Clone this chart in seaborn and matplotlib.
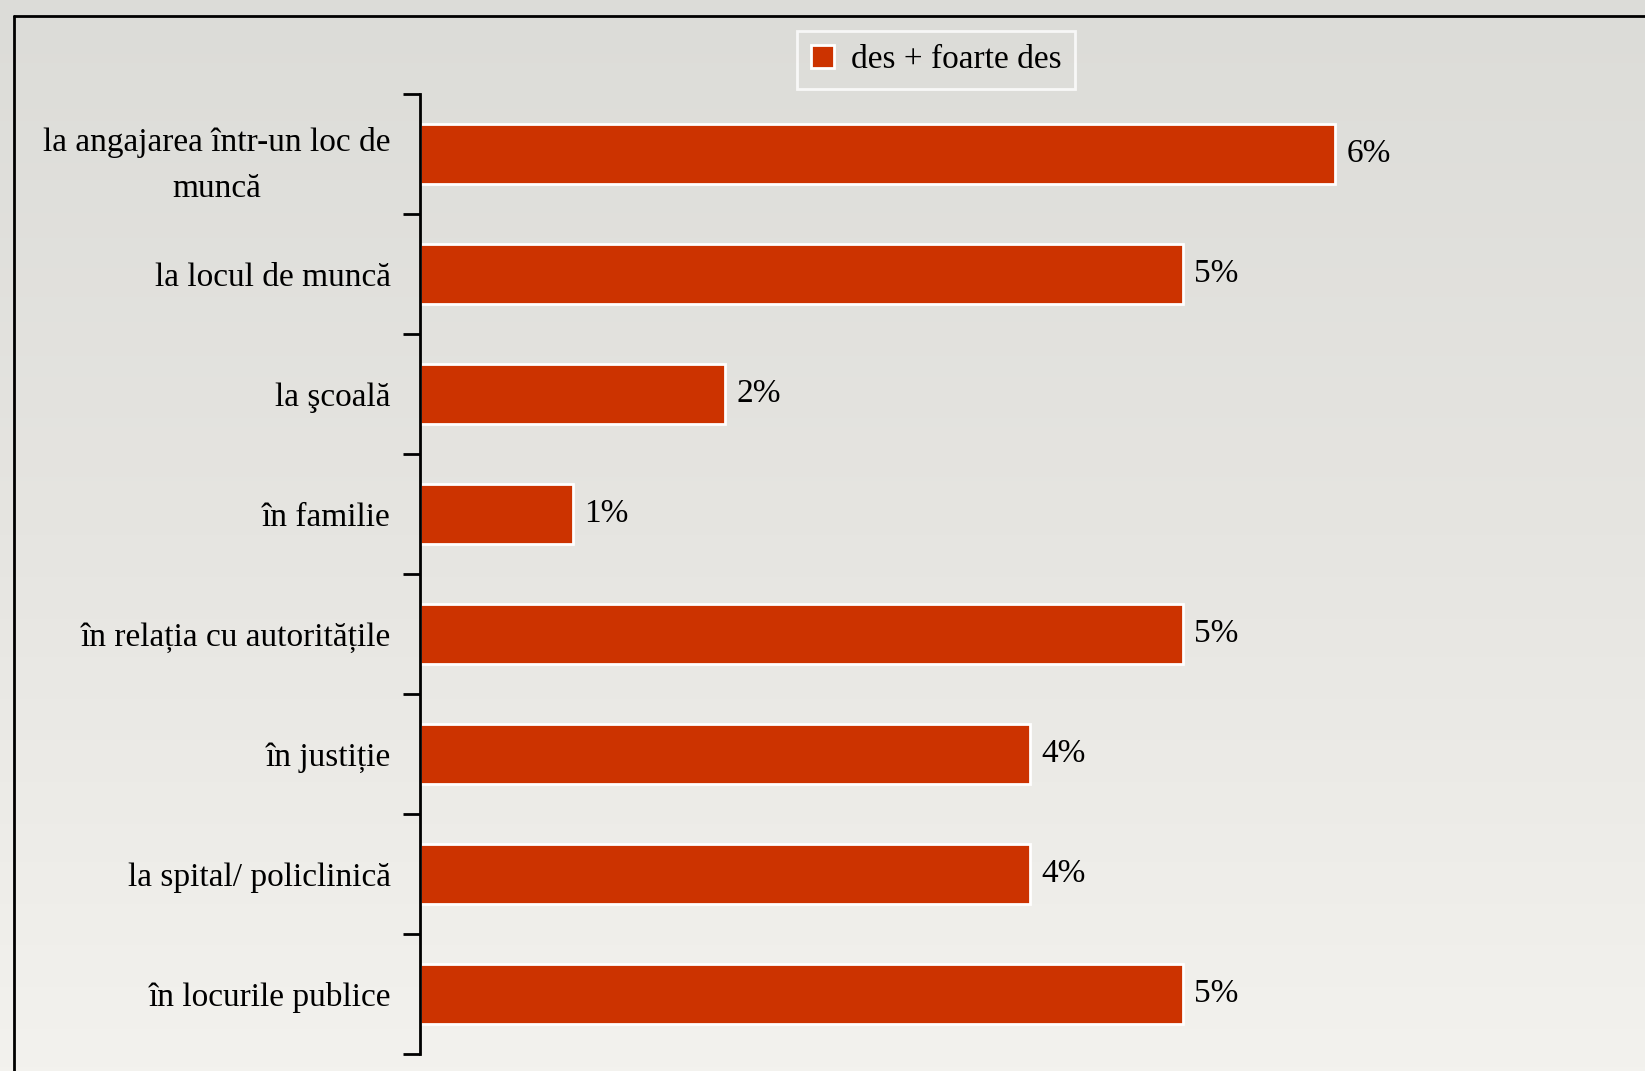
import numpy as np
import pandas as pd
import matplotlib
matplotlib.use("Agg")
import matplotlib.pyplot as plt
from matplotlib.lines import Line2D
import seaborn as sns

# data
categorii = [
    "la angajarea într-un loc de\nmuncă",
    "la locul de muncă",
    "la şcoală",
    "în familie",
    "în relația cu autoritățile",
    "în justiție",
    "la spital/ policlinică",
    "în locurile publice",
]
valori = [6, 5, 2, 1, 5, 4, 4, 5]
serie = "des + foarte des"

df = pd.DataFrame({"categorie": categorii, "valoare": valori, "serie": serie})

sns.set_style("white")
plt.rcParams["font.family"] = ["Liberation Serif", "DejaVu Serif"]

fig = plt.figure(figsize=(16.45, 10.71), dpi=100)

# background, a soft grey gradient like the slide photo
bg = fig.add_axes([0, 0, 1, 1], zorder=-10)
grad = np.linspace(0, 1, 256).reshape(-1, 1)
cmap = matplotlib.colors.LinearSegmentedColormap.from_list(
    "bg", ["#dcdcd8", "#e6e5e1", "#f3f2ee"])
bg.imshow(grad, aspect="auto", cmap=cmap, extent=[0, 1, 0, 1])
bg.set_axis_off()

# thin black frame of the slide (left and top)
fig.add_artist(Line2D([0.0085, 0.0085], [0, 0.985], color="black", lw=2))
fig.add_artist(Line2D([0.0085, 1.0], [0.985, 0.985], color="black", lw=2))

ax = fig.add_axes([0.2553, 0.0159, 0.6955, 0.8963])
ax.patch.set_alpha(0)

sns.barplot(data=df, x="valoare", y="categorie", hue="serie",
            palette=["#CC3300"], width=0.5, edgecolor="white",
            linewidth=2, saturation=1, ax=ax)

ax.set_xlim(0, 7.5)
ax.set_ylim(len(categorii) - 0.5, -0.5)
ax.set_xlabel("")
ax.set_ylabel("")
ax.set_xticks([])

for c in ax.containers:
    ax.bar_label(c, labels=[f"{v}%" for v in valori], padding=8,
                 fontsize=24, color="black")

ax.set_yticks(np.arange(len(categorii)))
ax.set_yticklabels(categorii, fontsize=24, color="black")
ax.set_yticks(np.arange(-0.5, len(categorii), 1), minor=True)
ax.tick_params(axis="y", which="major", length=0, pad=21)
ax.tick_params(axis="y", which="minor", length=12, width=2, color="black",
               left=True)
for lbl in ax.get_yticklabels():
    lbl.set_multialignment("center")
    lbl.set_linespacing(1.65)

for s in ["top", "right", "bottom"]:
    ax.spines[s].set_visible(False)
ax.spines["left"].set_color("black")
ax.spines["left"].set_linewidth(2)

leg = ax.legend(loc="center", bbox_to_anchor=(0.569, 0.944),
                bbox_transform=fig.transFigure, frameon=True, fancybox=False,
                fontsize=24, handlelength=0.7, handleheight=0.7,
                handletextpad=0.5, borderpad=0.4)
leg.get_frame().set_edgecolor("white")
leg.get_frame().set_facecolor("none")
leg.get_frame().set_linewidth(2)
for t in leg.get_texts():
    t.set_color("black")

fig.savefig("out.png", dpi=100)
